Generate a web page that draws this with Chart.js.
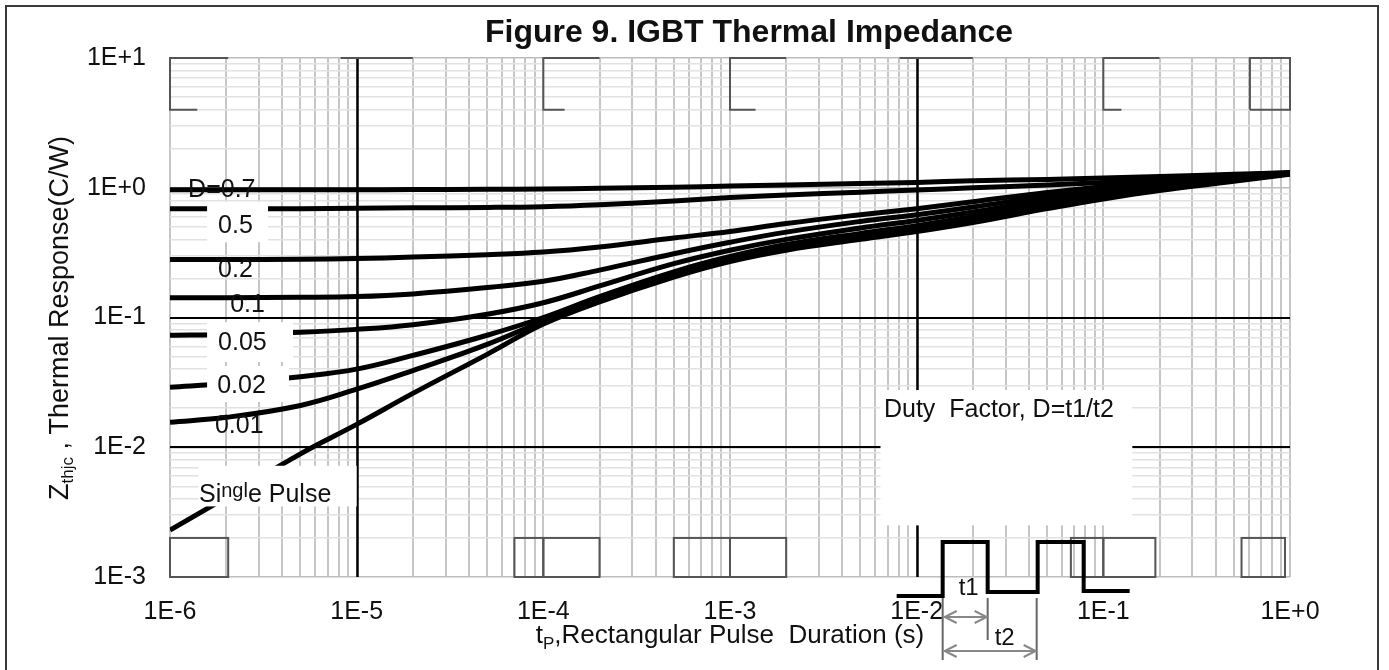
<!DOCTYPE html>
<html>
<head>
<meta charset="utf-8">
<script src="https://cdn.jsdelivr.net/npm/chart.js@4.4.1/dist/chart.umd.min.js"></script>
<style>
  html, body { margin: 0; padding: 0; background: #fff; }
  canvas { display: block; }
</style>
</head>
<body>
<canvas id="zthChart" width="1389" height="670"></canvas>
<script>
'use strict'
// pulse duration tp (s)
const durations = [1e-6, 2e-6, 5e-6, 1e-5, 2e-5, 5e-5, 1e-4, 2e-4, 5e-4, 1e-3, 2e-3, 5e-3, 1e-2, 2e-2, 5e-2, 1e-1, 2e-1, 5e-1, 1];
// Zthjc (C/W) per duty factor
const d070 = [0.965, 0.965, 0.965, 0.966, 0.968, 0.972, 0.978, 0.99, 1.01, 1.03, 1.05, 1.08, 1.10, 1.13, 1.16, 1.19, 1.22, 1.27, 1.31];
const d050 = [0.69, 0.69, 0.69, 0.695, 0.70, 0.705, 0.715, 0.74, 0.79, 0.84, 0.88, 0.925, 0.96, 1.0, 1.05, 1.10, 1.16, 1.25, 1.30];
const d020 = [0.28, 0.28, 0.281, 0.285, 0.292, 0.305, 0.32, 0.35, 0.41, 0.46, 0.53, 0.62, 0.69, 0.78, 0.92, 1.02, 1.11, 1.22, 1.30];
const d010 = [0.142, 0.142, 0.143, 0.145, 0.152, 0.17, 0.19, 0.232, 0.31, 0.38, 0.455, 0.55, 0.62, 0.71, 0.86, 0.96, 1.07, 1.20, 1.29];
const d005 = [0.073, 0.074, 0.077, 0.081, 0.088, 0.106, 0.13, 0.175, 0.26, 0.33, 0.40, 0.49, 0.56, 0.65, 0.81, 0.92, 1.04, 1.18, 1.29];
const d002 = [0.029, 0.031, 0.035, 0.040, 0.051, 0.073, 0.10, 0.145, 0.225, 0.295, 0.365, 0.445, 0.51, 0.60, 0.76, 0.88, 1.01, 1.16, 1.28];
const d001 = [0.0156, 0.017, 0.021, 0.028, 0.039, 0.062, 0.094, 0.138, 0.215, 0.285, 0.35, 0.425, 0.49, 0.575, 0.73, 0.85, 0.98, 1.14, 1.28];
const single = [0.0023, 0.0041, 0.0089, 0.015, 0.026, 0.052, 0.089, 0.132, 0.205, 0.27, 0.33, 0.40, 0.46, 0.54, 0.69, 0.82, 0.95, 1.12, 1.27];

const seriesNames = ['D=0.7', '0.5', '0.2', '0.1', '0.05', '0.02', '0.01', 'Single Pulse'];
const seriesValues = [d070, d050, d020, d010, d005, d002, d001, single];

const xTickLabels = ['1E-6', '1E-5', '1E-4', '1E-3', '1E-2', '1E-1', '1E+0'];
const yTickLabels = ['1E-3', '1E-2', '1E-1', '1E+0', '1E+1'];

// the heavier reference lines of the grid
const xHeavy = [1e-5, 1e-2];
const yHeavy = [1e-1, 1e-2];

const FONT = '"Liberation Sans", Arial, Helvetica, sans-serif';

// where the curve names sit (t, Zth at text baseline)
const labelSpots = [
  [1.25e-6, 0.85], [1.81e-6, 0.45], [1.81e-6, 0.205], [2.1e-6, 0.11],
  [1.81e-6, 0.056], [1.79e-6, 0.0262], [1.74e-6, 0.0129], [1.43e-6, 0.0038],
];
// white patches behind some labels [t0, t1, z0, z1]
const whiteBoxes = [
  [1.58e-6, 3.35e-6, 0.78, 0.38],
  [1.58e-6, 4.56e-6, 0.092, 0.0454],
  [1.58e-6, 4.34e-6, 0.0423, 0.0223],
  [1.42e-6, 1.0e-5, 0.0072, 0.0035],
  [6.4e-3, 0.143, 0.0276, 0.0025],
];
// leftover outline boxes along the top and bottom rows
const topBrackets = [
  [[1.4e-6, 4], [1e-6, 4], [1e-6, 10], [2.05e-6, 10]],
  [[8.2e-6, 10], [2e-5, 10]],
  [[1.3e-4, 4], [1e-4, 4], [1e-4, 10], [2e-4, 10]],
  [[1.37e-3, 4], [1e-3, 4], [1e-3, 10], [2e-3, 10]],
  [[8.1e-3, 10], [2e-2, 10]],
  [[0.125, 4], [0.1, 4], [0.1, 10], [0.2, 10]],
  [[0.61, 4], [0.61, 10], [1, 10], [1, 4], [0.61, 4]],
];
const bottomBoxes = [
  [1e-6, 2.05e-6], [7e-5, 1e-4], [1e-4, 2e-4], [5e-4, 1e-3], [1e-3, 2e-3],
  [0.067, 0.1], [0.1, 0.19], [0.55, 0.94],
];

function isDecade(v) {
  const l = Math.log10(v);
  return Math.abs(l - Math.round(l)) < 1e-6;
}
function logGrid(minExp, maxExp) {
  const vals = [];
  for (let e = minExp; e < maxExp; e++) {
    for (let m = 1; m < 10; m++) vals.push(m * Math.pow(10, e));
  }
  vals.push(Math.pow(10, maxExp));
  return vals;
}

const decorPlugin = {
  id: 'decor',
  beforeDraw(chart) {
    const ctx = chart.ctx;
    ctx.save();
    ctx.fillStyle = '#fff';
    ctx.fillRect(0, 0, chart.width, chart.height);
    ctx.strokeStyle = '#3a3a3a';
    ctx.lineWidth = 2;
    ctx.strokeRect(6, 6, 1372, 700);
    ctx.restore();
  },
  beforeDatasetsDraw(chart) {
    // heavy grid lines go over the light ones
    const ctx = chart.ctx, a = chart.chartArea;
    ctx.save();
    ctx.strokeStyle = '#000';
    ctx.lineWidth = 2.5;
    xHeavy.forEach(t => {
      const x = Math.round(chart.scales.x.getPixelForValue(t)) + 0.5;
      ctx.beginPath(); ctx.moveTo(x, a.top); ctx.lineTo(x, a.bottom); ctx.stroke();
    });
    ctx.lineWidth = 2;
    yHeavy.forEach(z => {
      const y = Math.round(chart.scales.y.getPixelForValue(z));
      ctx.beginPath(); ctx.moveTo(a.left, y); ctx.lineTo(a.right, y); ctx.stroke();
    });
    ctx.restore();
  },
  afterDatasetsDraw(chart) {
    const ctx = chart.ctx;
    const xs = chart.scales.x, ys = chart.scales.y;
    const px = t => xs.getPixelForValue(t);
    const py = z => ys.getPixelForValue(z);
    const area = chart.chartArea;
    ctx.save();

    // white label patches
    ctx.fillStyle = '#fff';
    whiteBoxes.forEach(b => {
      ctx.fillRect(px(b[0]), py(b[2]), px(b[1]) - px(b[0]), py(b[3]) - py(b[2]));
    });

    // outline leftovers
    ctx.strokeStyle = '#555';
    ctx.lineWidth = 2;
    topBrackets.forEach(pts => {
      ctx.beginPath();
      pts.forEach((p, i) => {
        const x = px(p[0]), y = py(p[1]);
        if (i === 0) ctx.moveTo(x, y); else ctx.lineTo(x, y);
      });
      ctx.stroke();
    });
    bottomBoxes.forEach(b => {
      ctx.strokeRect(px(b[0]), py(2e-3), px(b[1]) - px(b[0]), py(1e-3) - py(2e-3));
    });

    // curve names
    ctx.fillStyle = '#111';
    ctx.textBaseline = 'alphabetic';
    ctx.textAlign = 'left';
    ctx.font = '25px ' + FONT;
    for (let i = 0; i < 7; i++) {
      ctx.fillText(seriesNames[i], px(labelSpots[i][0]), py(labelSpots[i][1]));
    }
    // "Single Pulse" (middle letters render raised in the original)
    let sx = px(labelSpots[7][0]);
    const sy = py(labelSpots[7][1]);
    ctx.fillText('Si', sx, sy);
    sx += ctx.measureText('Si').width;
    ctx.font = '20px ' + FONT;
    ctx.fillText('ngl', sx, sy - 5);
    sx += ctx.measureText('ngl').width;
    ctx.font = '25px ' + FONT;
    ctx.fillText('e Pulse', sx, sy);

    ctx.fillText('Duty  Factor, D=t1/t2', px(6.68e-3), py(0.0171));

    // pulse train sketch, anchored at (1E-2, 1E-3)
    const ax = px(1e-2), ay = py(1e-3);
    const wave = [[-20, 19], [26, 19], [26, -35], [71, -35], [71, 15], [121, 15], [121, -35], [167, -35], [167, 14], [213, 14]];
    ctx.strokeStyle = '#000';
    ctx.lineWidth = 4;
    ctx.lineJoin = 'miter';
    ctx.beginPath();
    wave.forEach((p, i) => {
      if (i === 0) ctx.moveTo(ax + p[0], ay + p[1]); else ctx.lineTo(ax + p[0], ay + p[1]);
    });
    ctx.stroke();

    ctx.strokeStyle = '#666';
    ctx.lineWidth = 2;
    [[26, 21, 83], [71, 21, 63], [120, 21, 83]].forEach(v => {
      ctx.beginPath();
      ctx.moveTo(ax + v[0], ay + v[1]);
      ctx.lineTo(ax + v[0], ay + v[2]);
      ctx.stroke();
    });
    ctx.strokeStyle = '#888';
    [[40, 28, 70], [74, 28, 119]].forEach(a => {
      const y = ay + a[0], x0 = ax + a[1], x1 = ax + a[2];
      ctx.beginPath();
      ctx.moveTo(x0, y); ctx.lineTo(x1, y);
      ctx.moveTo(x0 + 12, y - 6); ctx.lineTo(x0, y); ctx.lineTo(x0 + 12, y + 6);
      ctx.moveTo(x1 - 12, y - 6); ctx.lineTo(x1, y); ctx.lineTo(x1 - 12, y + 6);
      ctx.stroke();
    });
    ctx.fillStyle = '#111';
    ctx.font = '24px ' + FONT;
    ctx.fillText('t1', ax + 42, ay + 18);
    ctx.fillText('t2', ax + 78, ay + 68);

    // chart title
    ctx.font = 'bold 32px ' + FONT;
    ctx.textAlign = 'center';
    ctx.fillText('Figure 9. IGBT Thermal Impedance', 749, 42);

    // x axis title with subscript
    ctx.textAlign = 'left';
    const big = '26px ' + FONT, small = '17px ' + FONT;
    const rest = ',Rectangular Pulse  Duration (s)';
    ctx.font = big;
    const wT = ctx.measureText('t').width, wR = ctx.measureText(rest).width;
    ctx.font = small;
    const wP = ctx.measureText('P').width;
    let tx = (area.left + area.right) / 2 - (wT + wP + wR) / 2;
    const ty = 643;
    ctx.font = big; ctx.fillText('t', tx, ty); tx += wT;
    ctx.font = small; ctx.fillText('P', tx, ty + 6); tx += wP;
    ctx.font = big; ctx.fillText(rest, tx, ty);

    // y axis title, rotated, with subscript
    ctx.translate(68, 500);
    ctx.rotate(-Math.PI / 2);
    let yx = 0;
    ctx.font = '27px ' + FONT;
    ctx.fillText('Z', yx, 0); yx += ctx.measureText('Z').width;
    ctx.font = '17px ' + FONT;
    ctx.fillText('thjc', yx, 5); yx += ctx.measureText('thjc').width;
    ctx.font = '27px ' + FONT;
    ctx.fillText(' , Thermal Response(C/W)', yx, 0);

    ctx.restore();
  },
};

const datasets = seriesValues.map((vals, i) => ({
  label: seriesNames[i],
  data: durations.map((t, j) => ({ x: t, y: vals[j] })),
  borderColor: '#000',
  borderWidth: 5,
  pointRadius: 0,
  fill: false,
  tension: 0.4,
}));

const xGrid = logGrid(-6, 0);
const yGrid = logGrid(-3, 1);

const chart = new Chart(document.getElementById('zthChart').getContext('2d'), {
  type: 'line',
  data: { datasets: datasets },
  options: {
    responsive: false,
    animation: false,
    devicePixelRatio: 1,
    layout: { padding: { left: 0, right: 99, top: 58, bottom: 0 } },
    plugins: {
      legend: { display: false },
      tooltip: { enabled: false },
      title: { display: false },
    },
    scales: {
      x: {
        type: 'logarithmic',
        min: 1e-6,
        max: 1,
        afterBuildTicks: scale => { scale.ticks = xGrid.map(v => ({ value: v })); },
        afterFit: scale => { scale.height = 93; },
        border: { display: false },
        grid: {
          drawTicks: false,
          color: '#c6c6c6',
          lineWidth: 2,
        },
        ticks: {
          autoSkip: false,
          maxRotation: 0,
          padding: 20,
          color: '#111',
          font: { family: FONT, size: 25 },
          callback: v => isDecade(v) ? xTickLabels[Math.round(Math.log10(v)) + 6] : '',
        },
      },
      y: {
        type: 'logarithmic',
        min: 1e-3,
        max: 10,
        afterBuildTicks: scale => { scale.ticks = yGrid.map(v => ({ value: v })); },
        afterFit: scale => { scale.width = 170; },
        border: { display: false },
        grid: {
          drawTicks: false,
          color: c => isDecade(c.tick.value) ? '#bdbdbd' : '#e2e2e2',
          lineWidth: 1.5,
        },
        ticks: {
          autoSkip: false,
          padding: 24,
          color: '#111',
          font: { family: FONT, size: 25 },
          callback: v => isDecade(v) ? yTickLabels[Math.round(Math.log10(v)) + 3] : '',
        },
      },
    },
  },
  plugins: [decorPlugin],
});
chart;
</script>
</body>
</html>
